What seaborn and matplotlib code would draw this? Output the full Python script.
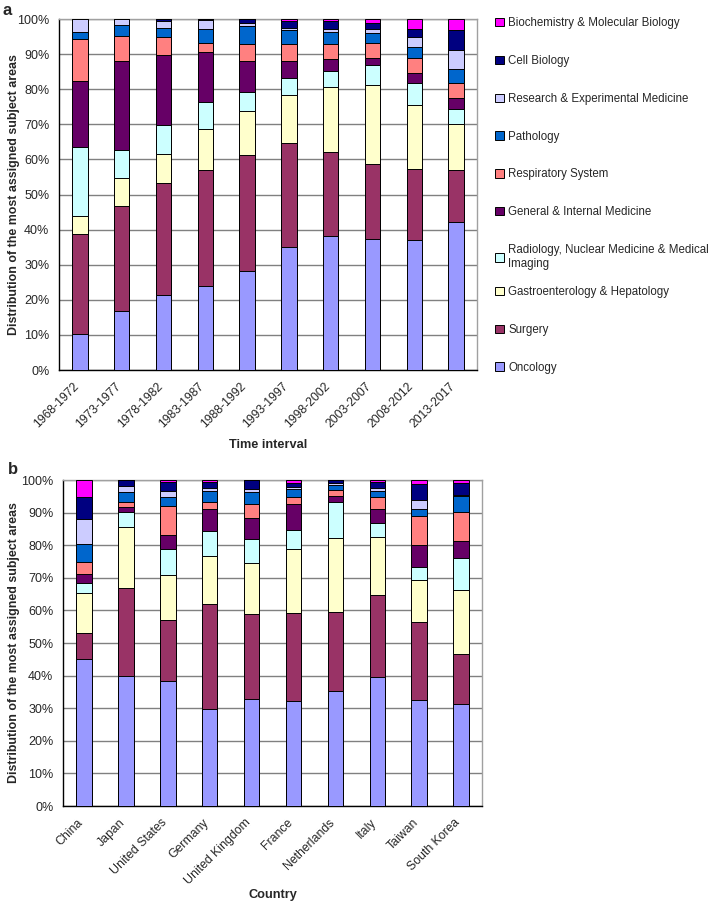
import numpy as np
import matplotlib
matplotlib.use('Agg')
import matplotlib.pyplot as plt
from matplotlib.patches import Patch
from matplotlib.ticker import FixedLocator
from matplotlib.transforms import ScaledTranslation
import seaborn as sns

subjects = ['Oncology', 'Surgery', 'Gastroenterology & Hepatology',
            'Radiology, Nuclear Medicine & Medical\nImaging',
            'General & Internal Medicine', 'Respiratory System', 'Pathology',
            'Research & Experimental Medicine', 'Cell Biology',
            'Biochemistry & Molecular Biology']
colors = ['#9999FF', '#993366', '#FFFFCC', '#CCFFFF', '#660066',
          '#FF8080', '#0066CC', '#CCCCFF', '#000080', '#FF00FF']

periods = ['1968-1972', '1973-1977', '1978-1982', '1983-1987', '1988-1992',
           '1993-1997', '1998-2002', '2003-2007', '2008-2012', '2013-2017']
countries = ['China', 'Japan', 'United States', 'Germany', 'United Kingdom',
             'France', 'Netherlands', 'Italy', 'Taiwan', 'South Korea']

# panel a: share (%) of each subject area per time interval
a_oncology = [10.2, 16.8, 21.5, 24.0, 28.3, 35.0, 38.3, 37.4, 37.0, 42.2]
a_surgery = [28.5, 30.0, 31.8, 33.0, 33.1, 29.6, 23.7, 21.4, 20.2, 14.9]
a_gastro = [5.3, 8.0, 8.2, 11.6, 12.4, 13.8, 18.5, 22.5, 18.4, 12.9]
a_radiology = [19.6, 8.0, 8.2, 7.8, 5.3, 4.8, 4.7, 5.6, 6.2, 4.5]
a_general = [18.7, 25.3, 20.0, 14.1, 9.0, 4.7, 3.5, 2.1, 2.9, 2.9]
a_respiratory = [11.9, 7.0, 5.1, 2.7, 4.9, 5.1, 4.3, 4.2, 4.3, 4.4]
a_pathology = [2.2, 3.1, 2.7, 3.9, 4.9, 4.0, 3.3, 2.7, 3.1, 4.1]
a_research = [3.6, 1.8, 1.9, 2.5, 1.0, 0.4, 0.8, 1.4, 2.7, 5.2]
a_cell = [0.0, 0.0, 0.6, 0.4, 1.1, 1.9, 2.2, 1.7, 2.3, 5.8]
a_biochem = [0.0, 0.0, 0.0, 0.0, 0.0, 0.7, 0.7, 1.0, 2.9, 3.1]

# panel b: share (%) of each subject area per country
b_oncology = [45.1, 39.8, 38.4, 29.7, 32.9, 32.1, 35.2, 39.7, 32.4, 31.4]
b_surgery = [7.9, 27.2, 18.6, 32.3, 26.1, 27.1, 24.3, 25.1, 24.0, 15.3]
b_gastro = [12.3, 18.6, 14.0, 14.8, 15.6, 19.8, 22.8, 17.7, 12.8, 19.5]
b_radiology = [3.0, 4.5, 7.9, 7.7, 7.4, 5.7, 11.1, 4.4, 4.2, 9.8]
b_general = [2.9, 1.7, 4.1, 6.7, 6.3, 8.1, 1.7, 4.3, 6.6, 5.4]
b_respiratory = [3.8, 1.5, 9.0, 2.2, 4.4, 2.0, 1.7, 3.6, 9.0, 8.8]
b_pathology = [5.5, 3.0, 2.8, 3.3, 3.5, 2.4, 1.8, 1.8, 2.0, 5.0]
b_research = [7.5, 1.9, 1.8, 1.0, 1.1, 0.7, 0.4, 1.1, 2.9, 0.2]
b_cell = [6.9, 1.8, 2.8, 1.8, 2.7, 1.1, 1.0, 1.8, 4.9, 3.8]
b_biochem = [5.1, 0.0, 0.6, 0.5, 0.0, 1.0, 0.0, 0.5, 1.2, 0.8]

a_shares = [a_oncology, a_surgery, a_gastro, a_radiology, a_general,
            a_respiratory, a_pathology, a_research, a_cell, a_biochem]
b_shares = [b_oncology, b_surgery, b_gastro, b_radiology, b_general,
            b_respiratory, b_pathology, b_research, b_cell, b_biochem]

sns.set_style('white')
plt.rcParams['font.family'] = ['Liberation Sans', 'DejaVu Sans']
plt.rcParams['font.size'] = 9

YLABEL = 'Distribution of the most assigned subject areas'

fig = plt.figure(figsize=(7.08, 9.02), dpi=100)
ax1 = fig.add_axes([0.0833, 0.5898, 0.5904, 0.3891])
ax2 = fig.add_axes([0.0890, 0.1064, 0.5918, 0.3614])


def stacked(ax, cats, shares, xlabel, xlab_y, ylab_x):
    cum = np.cumsum(np.array(shares), axis=0)
    # draw cumulative totals from the top down so lower segments overlap
    for i in reversed(range(len(shares))):
        sns.barplot(x=cats, y=cum[i], order=cats, color=colors[i],
                    saturation=1, width=0.37, edgecolor='black',
                    linewidth=0.7, errorbar=None, ax=ax, zorder=3)
    ax.set_xlim(-0.5, len(cats) - 0.5)
    ax.set_ylim(0, 100)
    ax.set_yticks(range(0, 101, 10))
    ax.set_yticklabels(['{0}%'.format(v) for v in range(0, 101, 10)],
                       fontsize=9)
    ax.yaxis.grid(True, color='#808080', linewidth=1)
    ax.set_axisbelow(True)
    ax.set_xticks(range(len(cats)))
    ax.set_xticklabels(cats, rotation=45, ha='right', va='center',
                       rotation_mode='anchor', fontsize=8.8)
    ax.xaxis.set_minor_locator(FixedLocator(np.arange(-0.5, len(cats), 1)))
    ax.tick_params(axis='x', which='major', length=0, pad=10.5)
    ax.tick_params(axis='x', which='minor', length=4, width=1,
                   color='black', direction='out')
    ax.tick_params(axis='y', length=4, width=1, color='black',
                   direction='out', pad=3)
    shift = ScaledTranslation(-2 / 72, 0, fig.dpi_scale_trans)
    for lbl in ax.get_xticklabels():
        lbl.set_transform(lbl.get_transform() + shift)
    for side in ['left', 'bottom']:
        ax.spines[side].set_color('black')
        ax.spines[side].set_linewidth(1)
    for side in ['top', 'right']:
        ax.spines[side].set_color('#A0A0A0')
        ax.spines[side].set_linewidth(1)
    ax.set_xlabel(xlabel, fontsize=9.2, fontweight='bold')
    ax.set_ylabel(YLABEL, fontsize=8.9, fontweight='bold')
    ax.xaxis.set_label_coords(0.5, xlab_y)
    ax.yaxis.set_label_coords(ylab_x, 0.5)


stacked(ax1, periods, a_shares, 'Time interval', -0.197, -0.093)
stacked(ax2, countries, b_shares, 'Country', -0.254, -0.103)

handles = [Patch(facecolor=colors[i], edgecolor='black', linewidth=0.7,
                 label=subjects[i]) for i in reversed(range(len(subjects)))]
leg_kw = dict(loc='upper left', bbox_transform=fig.transFigure,
              frameon=False, fontsize=8.3, labelspacing=2.24,
              handlelength=0.75, handleheight=0.75, handletextpad=0.4,
              borderpad=0, borderaxespad=0)
leg_top = ax1.legend(handles=handles[:7], bbox_to_anchor=(0.699, 0.981),
                     **leg_kw)
ax1.add_artist(leg_top)
ax1.legend(handles=handles[7:], bbox_to_anchor=(0.699, 0.683), **leg_kw)

fig.text(0.003, 0.988, 'a', fontsize=12, fontweight='bold', va='center')
fig.text(0.011, 0.480, 'b', fontsize=12, fontweight='bold', va='center')

fig.savefig('out.png', dpi=100)
